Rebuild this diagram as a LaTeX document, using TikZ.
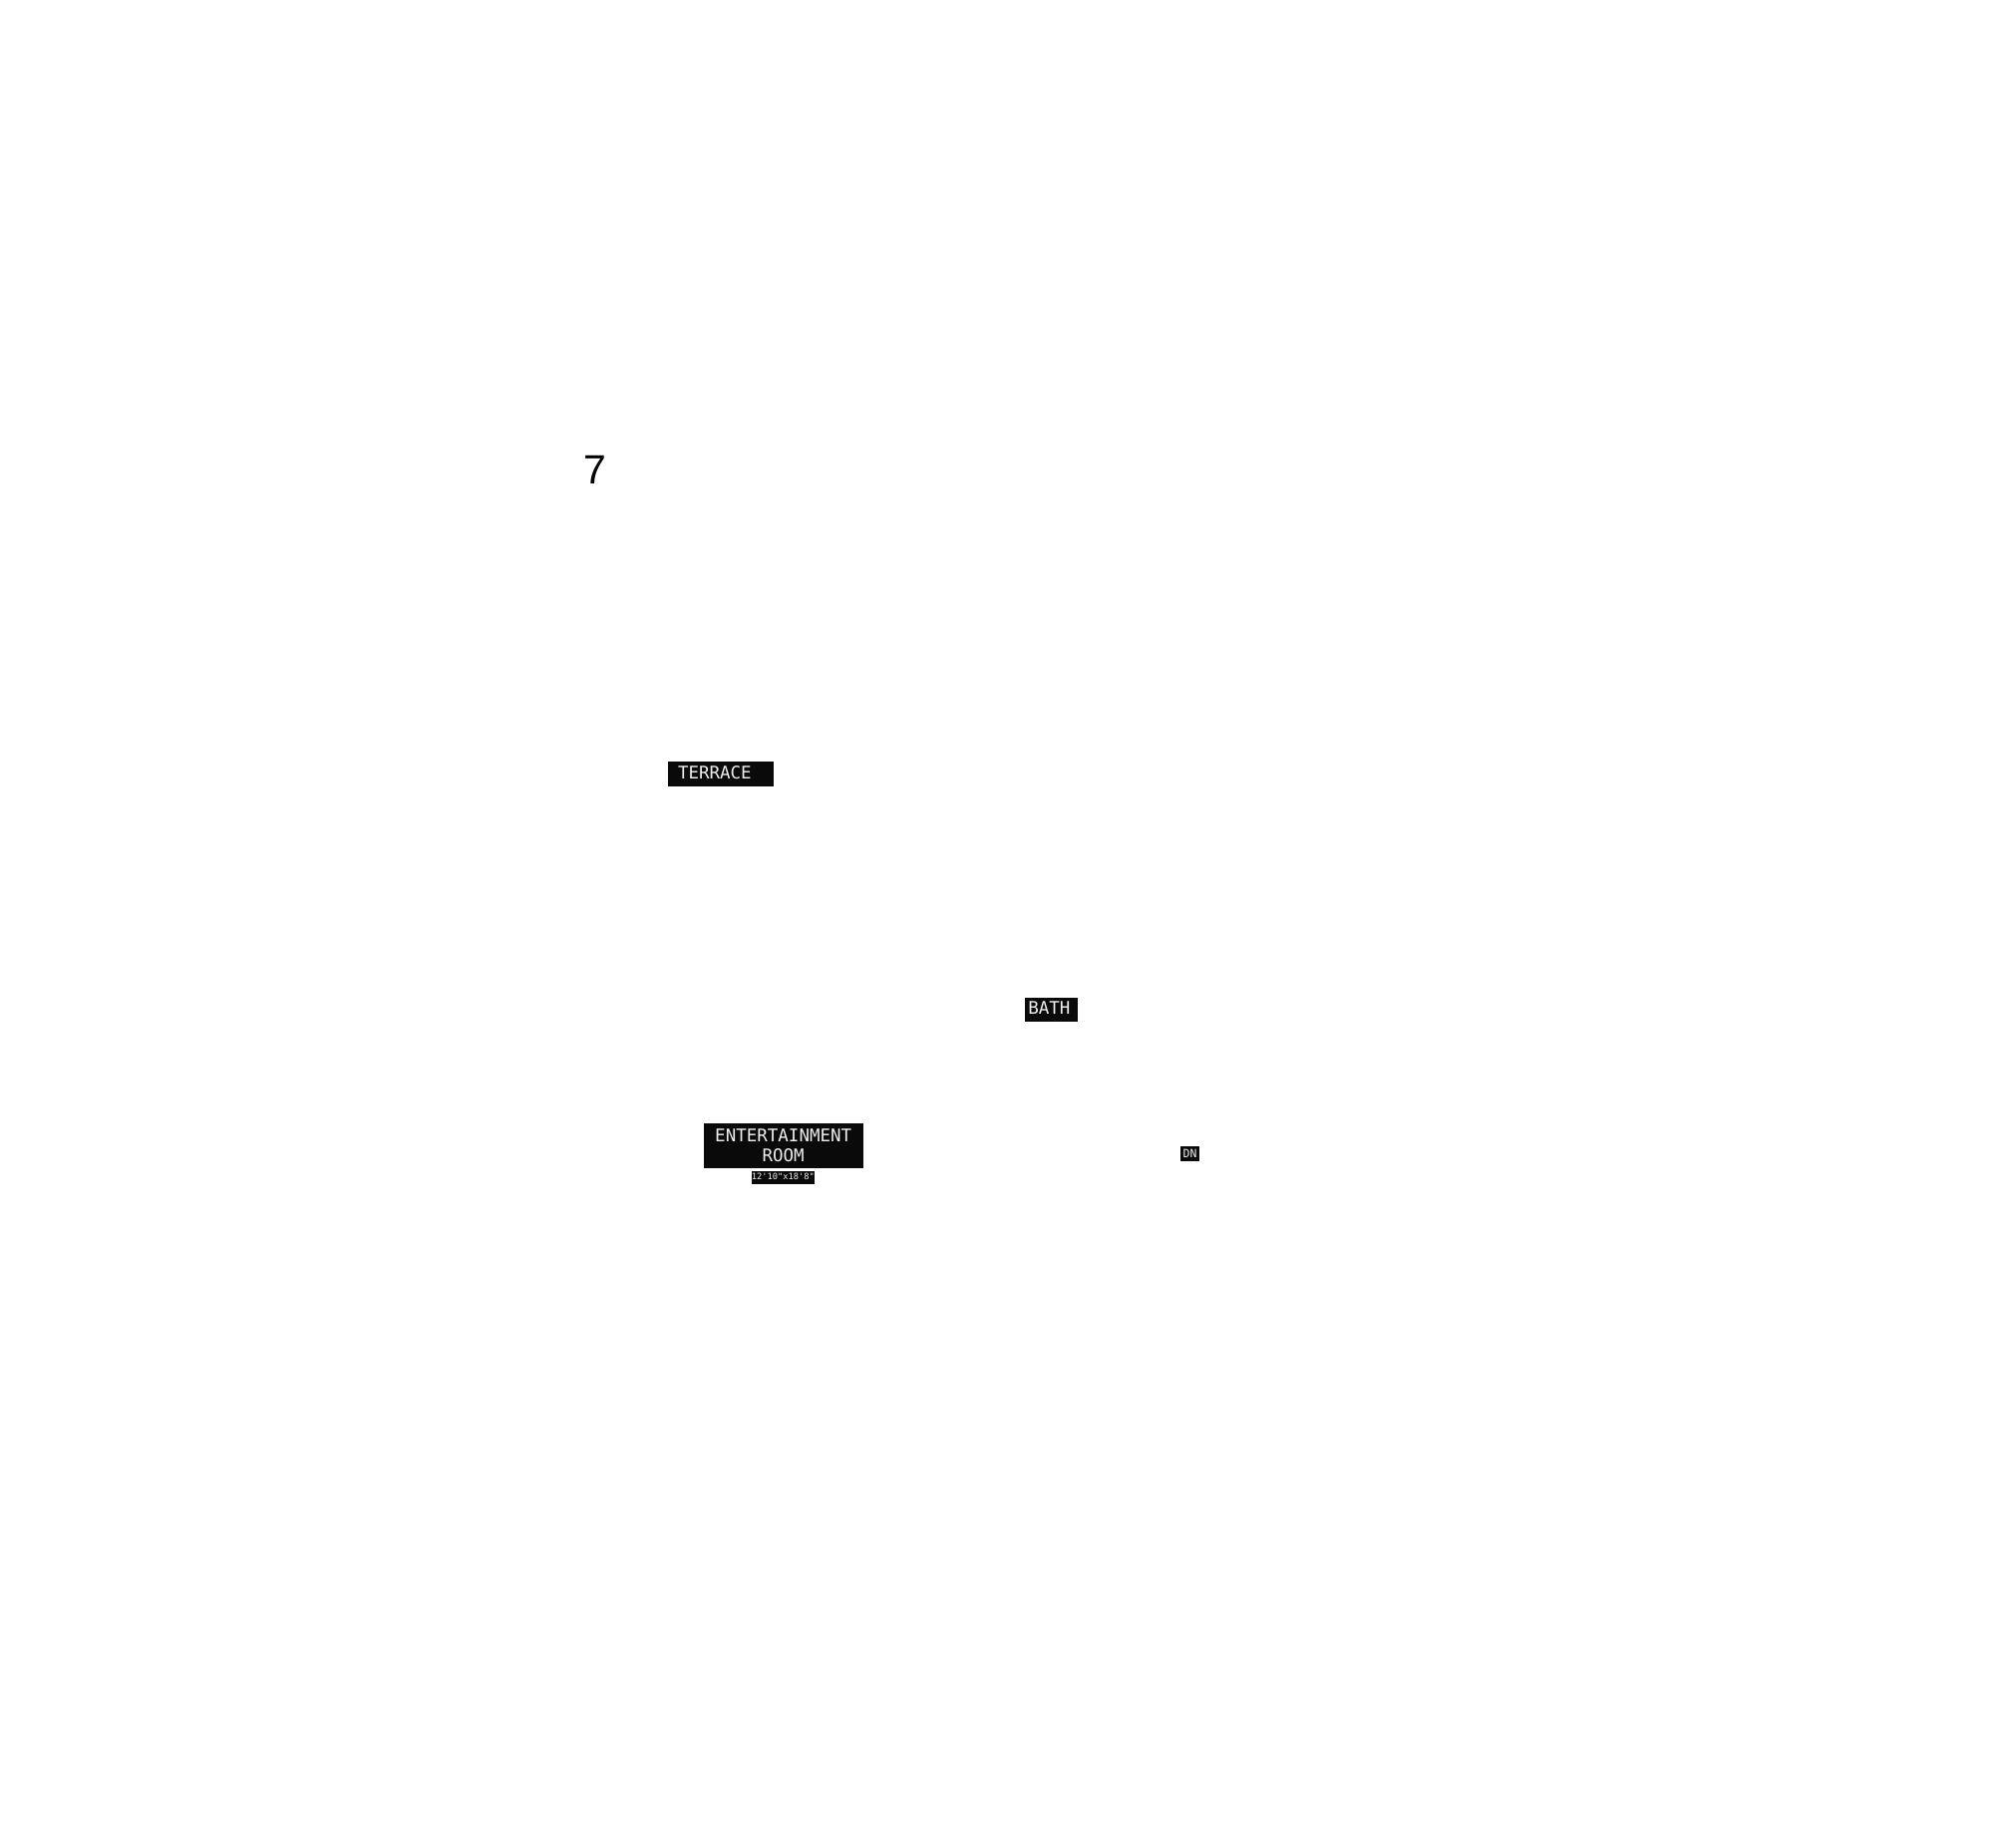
\documentclass[tikz,border=0pt]{standalone}
\usepackage{fontspec}
\newfontfamily\labelfont{DejaVu Sans Mono}
\newfontfamily\numfont{Liberation Sans}
\definecolor{boxblack}{HTML}{0A0A0A}
\definecolor{labelwhite}{HTML}{EEEEEE}
\begin{document}
\begin{tikzpicture}[x=1pt,y=-1pt,
  roomlabel/.style={fill=boxblack, text=labelwhite, inner ysep=0pt, outer sep=0pt,
    font=\labelfont\fontsize{17.5}{20.7}\selectfont},
  smalllabel/.style={fill=boxblack, text=labelwhite, inner sep=0pt, outer sep=0pt}]
\useasboundingbox[fill=white] (0,0) rectangle (2000,1854);

\node[anchor=base west, inner sep=0pt, font=\numfont\fontsize{41}{41}\selectfont] (seven) at (585,485) {7};

\node[roomlabel, anchor=base west, inner xsep=10pt, text height=17pt, text depth=8pt]
  (terrace) at (670,781) {TERRACE\kern12pt};

\node[roomlabel, anchor=base west, inner xsep=3pt, text height=16.6pt, text depth=7.7pt]
  (bath) at (1028.3,1017.3) {BATH\kern5pt};

\node[roomlabel, anchor=north west, inner sep=0pt, minimum width=160pt, minimum height=45pt, align=center]
  (ent) at (705.7,1126.7) {ENTERTAINMENT\\ROOM};

\node[smalllabel, anchor=north, font=\labelfont\fontsize{8.7}{9}\selectfont,
  text height=8pt, text depth=5.3pt]
  (entdim) at (785.4,1175) {12\textquotesingle10\textquotedbl x18\textquotesingle8\textquotedbl};

\node[smalllabel, anchor=north west, font=\labelfont\fontsize{11.5}{12}\selectfont,
  inner xsep=2.9pt, text height=11pt, text depth=4pt]
  (dn) at (1183.7,1150) {DN};
\end{tikzpicture}
\end{document}
